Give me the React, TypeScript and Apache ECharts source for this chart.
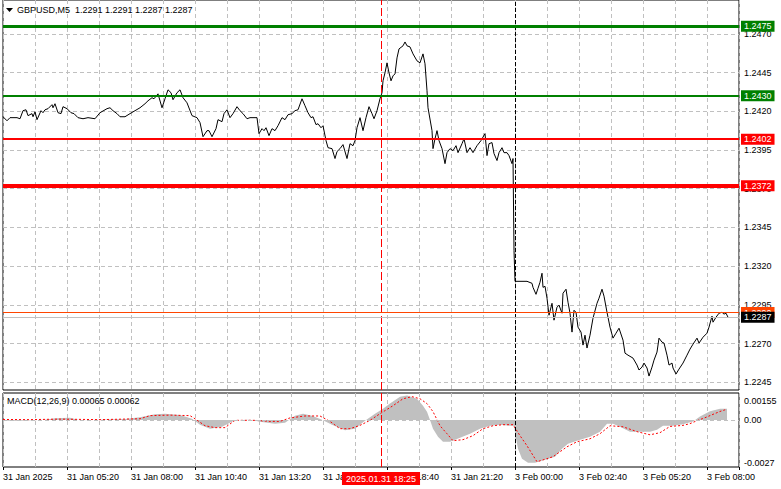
import React, { useEffect, useRef } from "react";
import * as echarts from "echarts";

// ---- data (bar index = 5-minute bars from the left edge) ----
const titleText = "GBPUSD,M5  1.2291 1.2291 1.2287 1.2287";
const macdTitle = "MACD(12,26,9) 0.00065 0.00062";

const timeLabels = [
  "31 Jan 2025", "31 Jan 05:20", "31 Jan 08:00", "31 Jan 10:40", "31 Jan 13:20", "31 Jan 16:00",
  "31 Jan 18:40", "31 Jan 21:20", "3 Feb 00:00", "3 Feb 02:40", "3 Feb 05:20", "3 Feb 08:00",
];

const priceTicks = [1.2245, 1.227, 1.2295, 1.232, 1.2345, 1.237, 1.2395, 1.242, 1.2445, 1.247];
const greenLevels = [1.2475, 1.243];
const redLevels = [1.2402, 1.2372];
const priceLevel = 1.229;
const bidPrice = 1.2287;

const macdTicks = [0.00155, 0, -0.0027];
const macdTickLabels = ["0.00155", "0.00", "-0.0027"];

const markerBar = 189;
const markerLabel = "2025.01.31 18:25";
const separatorBar = 256;

const pricePoints = [
  [0,1.24165],[2,1.24139],[3.5,1.24159],[7,1.24159],[8.5,1.24152],[10,1.24204],[11.5,1.2421],[12.5,1.24172],[14.5,1.24185],[15,1.24165],
  [16,1.24197],[17,1.24146],[19,1.24204],[20,1.24191],[21,1.2421],[22.5,1.24217],[24.5,1.24243],[25,1.24223],[26,1.24249],[27.5,1.24191],
  [29,1.24185],[30,1.2423],[32,1.24217],[34,1.24191],[35.5,1.24185],[37.5,1.24159],[40,1.24152],[42.5,1.24159],[46,1.24152],[48.5,1.24191],
  [52,1.24217],[53.5,1.24223],[55,1.24204],[57,1.24185],[58.5,1.24165],[61,1.24165],[63.5,1.24185],[66,1.24204],[68.5,1.24223],[71,1.24249],
  [72.5,1.24268],[74.5,1.24288],[75.5,1.24281],[77.5,1.24313],[79.5,1.24223],[81,1.24281],[82.5,1.24339],[84,1.2432],[85,1.24275],[87,1.2432],
  [88.5,1.24339],[90,1.24288],[92,1.24255],[94.5,1.24172],[97,1.24159],[98.5,1.24127],[100,1.24036],[102,1.24075],[103,1.24075],[104.5,1.24036],
  [106.5,1.24088],[107.5,1.24146],[109.5,1.24133],[110.5,1.24185],[112,1.2421],[113.5,1.24159],[115,1.24185],[117,1.2423],[118.5,1.24204],[120,1.24185],
  [122,1.24152],[123.5,1.24159],[126,1.24159],[127,1.24159],[128,1.24056],[129.5,1.24088],[130.5,1.24075],[131.5,1.24094],[133,1.24043],[134.5,1.24088],
  [136,1.24075],[137.5,1.24107],[139.5,1.24159],[141,1.24146],[142.5,1.24178],[144.5,1.24185],[146,1.24204],[147.5,1.2421],[149.5,1.24281],[151,1.24236],
  [152.5,1.24191],[154,1.24159],[155,1.24165],[156.5,1.24114],[157.5,1.2412],[159,1.24094],[160,1.24107],[161.5,1.24011],[162.5,1.23965],[164.5,1.23959],
  [166,1.23895],[167,1.2394],[168.5,1.23959],[170,1.23985],[172,1.23895],[173.5,1.23991],[175,1.23978],[176,1.24011],[177,1.24094],[178.5,1.24159],
  [180,1.24075],[181.5,1.24159],[183,1.2423],[184.5,1.24185],[185.5,1.24152],[187,1.24204],[188.5,1.24281],[189.5,1.2432],[190,1.24397],[191,1.24449],
  [192,1.24513],[193,1.24449],[194,1.24397],[195,1.24429],[196,1.24442],[197,1.24545],[198,1.24603],[200,1.24623],[201,1.24648],[202,1.24623],
  [203.5,1.24616],[205,1.24571],[207,1.24526],[208.5,1.24513],[210,1.24571],[211,1.24507],[212,1.24333],[212.5,1.24223],[214.5,1.24075],[215,1.23959],
  [216,1.24023],[217,1.24075],[218,1.24011],[219.5,1.23959],[221,1.23862],[222,1.23933],[223.5,1.23959],[225,1.23946],[226.5,1.23978],[227.5,1.23933],
  [229.5,1.23991],[230.5,1.24023],[232,1.23933],[233.5,1.23965],[235,1.23933],[237,1.23978],[239,1.24011],[241,1.24056],[242,1.23914],[243,1.23991],
  [244.5,1.23998],[245.5,1.23927],[247,1.23882],[248,1.23933],[249.5,1.23965],[250.5,1.23933],[252,1.23933],[253,1.23914],[254.5,1.23862],[255,1.23895],
  [255.5,1.23302],[256,1.23102],[262,1.23102],[264.5,1.23089],[265,1.23063],[266.5,1.23018],[267.5,1.23057],[268.5,1.23096],[269.5,1.23154],[270,1.23063],
  [271,1.2307],[272,1.22993],[273,1.22883],[274.5,1.2296],[275.5,1.22851],[277,1.22935],[278,1.22948],[279.5,1.22896],[280,1.23025],[281.5,1.23051],
  [282.5,1.22967],[283.5,1.22896],[284.5,1.22774],[285.5,1.22915],[286.5,1.22902],[287.5,1.22806],[289,1.22774],[290,1.2269],[291,1.22754],[292,1.22671],
  [293.5,1.22754],[295,1.22864],[297,1.2296],[298,1.22993],[299.5,1.23051],[300.5,1.23006],[302,1.22902],[303.5,1.22806],[305,1.22735],[306.5,1.22767],
  [308,1.22799],[310,1.22722],[311,1.22638],[312.5,1.22625],[315,1.22606],[317,1.22561],[318,1.22529],[319.5,1.22548],[320.5,1.22574],[322,1.22542],
  [323,1.2249],[324.5,1.22548],[325.5,1.22593],[327,1.22645],[328,1.22735],[329.5,1.22709],[330.5,1.22703],[332,1.22625],[333,1.22561],[334.5,1.22574],
  [335,1.22542],[336.5,1.22503],[338,1.22535],[340,1.22574],[342,1.22625],[343.5,1.22664],[345,1.22696],[347,1.22735],[348,1.22703],[350,1.22741],
  [352,1.22767],[353,1.22806],[354.5,1.22877],[355,1.22838],[356.5,1.2287],[358,1.22896],[359.5,1.22902],[360.5,1.2289],[361.5,1.22896],[362.5,1.2287],
];

const macdMain = [
  [0,-0.00004],[8.5,-0.00004],[21,0.00002],[26,0.0001],[33.5,0.00013],[38.5,-0.00001],[48.5,0.00002],[61,0.00005],[68.5,0.00016],[76,0.00033],
  [81,0.00036],[88.5,0.00028],[94.5,0.00007],[98.5,-0.00027],[103.5,-0.0005],[109.5,-0.00039],[116,-0.00001],[123.5,0.00002],[128.5,-0.0001],[136,-0.00021],
  [141,-0.00016],[146,0.00025],[150,0.00036],[154.5,0.00025],[159.5,0.00002],[164.5,-0.00027],[171,-0.00059],[176,-0.0005],[181,-0.00004],[186,0.00036],
  [190,0.00065],[193.5,0.00094],[198.5,0.00134],[202,0.0014],[207,0.00122],[210,0.00082],[212,0.00048],[213.5,0],[215,-0.0005],[217.5,-0.00096],
  [220,-0.00125],[223.5,-0.00125],[228.5,-0.00102],[233.5,-0.00079],[238.5,-0.0005],[243.5,-0.00033],[248.5,-0.00027],[253.5,-0.00033],[255.5,-0.00033],[256.5,-0.00107],
  [257.5,-0.00165],[259.5,-0.00222],[262.5,-0.00245],[266,-0.00245],[271,-0.00228],[276,-0.00211],[279.5,-0.00165],[282.5,-0.00136],[287,-0.00119],[293.5,-0.00096],
  [298.5,-0.00067],[302,-0.00021],[305,-0.00021],[308.5,-0.00039],[313.5,-0.00067],[318.5,-0.00067],[323.5,-0.00067],[327,-0.00056],[330,-0.00033],[335,-0.00033],
  [340,-0.00024],[345,-0.00008],[348.5,0.0002],[353.5,0.0005],[358.5,0.00065],[362,0.00065],
];

const macdSignal = [
  [0,0.00003],[13.5,0.00002],[28.5,0.00005],[48.5,0.00002],[68.5,0.00007],[73.5,0.00025],[83.5,0.00028],[93.5,0.00025],[96,0.00007],[101,-0.00033],
  [106,-0.00044],[111,-0.00044],[116,-0.00002],[126,-0.00002],[133.5,-0.00008],[138.5,-0.00008],[143.5,0.00012],[151,0.00023],[158.5,0.00023],[163.5,-0.00008],
  [168.5,-0.0005],[173.5,-0.0005],[178.5,-0.00031],[183.5,-0.00002],[188.5,0.00036],[195,0.00082],[200,0.00122],[204.5,0.00134],[208.5,0.00122],[212,0.00094],
  [215,0.00048],[218.5,-0.00033],[222,-0.00079],[225,-0.00119],[230,-0.00113],[235,-0.0009],[240,-0.0005],[245,-0.00033],[250,-0.00027],[255,-0.00027],
  [258.5,-0.0009],[262,-0.00148],[267,-0.0024],[275,-0.00211],[282,-0.00154],[287,-0.00125],[293.5,-0.00108],[298.5,-0.00079],[303.5,-0.00033],[310,-0.00039],
  [317,-0.00067],[323.5,-0.00085],[328.5,-0.00073],[333.5,-0.00037],[340,-0.00031],[343.5,-0.00021],[347,-0.00004],[351,0.00013],[354.5,0.0003],[358.5,0.00049],
  [362,0.00062],
];

// ---- chart ----
const F = '"Liberation Sans", Arial, sans-serif';
const FS = 9;
const GRID_DASH = [4, 3];

function buildOption() {
  const xBase = {
    type: "value",
    min: 0,
    max: 368,
    interval: 16,
    axisLine: { show: false },
    axisTick: { show: false },
    axisLabel: { show: false },
    splitLine: { show: true, lineStyle: { color: "#C0C0C0", type: GRID_DASH, width: 1 } },
  };

  const levelLabel = (bg: string) => ({
    show: true,
    position: "end",
    distance: 2,
    formatter: "{b}",
    color: "#fff",
    backgroundColor: bg,
    padding: [1, 3, 1, 3],
    fontSize: FS,
    fontFamily: F,
  });

  const redDash = { color: "#FF0000", type: [8, 3], width: 1 };
  const sepDash = { color: "#000", type: [4, 2], width: 1 };

  return {
    animation: false,
    backgroundColor: "#fff",
    textStyle: { fontFamily: F },
    title: [
      { text: titleText, left: 17, top: 5, padding: 0, textStyle: { fontSize: FS, fontWeight: "normal", color: "#000", fontFamily: F } },
      { text: macdTitle, left: 7, top: 396, padding: 0, textStyle: { fontSize: FS, fontWeight: "normal", color: "#000", fontFamily: F } },
    ],
    graphic: [
      { type: "polygon", shape: { points: [[6, 8], [13, 8], [9.5, 12]] }, style: { fill: "#000" } },
    ],
    grid: [
      { left: 3, top: -1, width: 736, height: 391, show: true, borderColor: "#000", borderWidth: 1, backgroundColor: "transparent" },
      { left: 3, top: 393, width: 736, height: 74, show: true, borderColor: "#000", borderWidth: 1, backgroundColor: "transparent" },
    ],
    xAxis: [
      { ...xBase, gridIndex: 0 },
      { ...xBase, gridIndex: 1 },
      {
        type: "value",
        gridIndex: 1,
        min: 0,
        max: 368,
        interval: 32,
        position: "bottom",
        axisLine: { show: false },
        axisTick: { show: true, length: 3, lineStyle: { color: "#000" } },
        splitLine: { show: false },
        axisLabel: {
          show: true,
          align: "left",
          margin: 5,
          color: "#000",
          fontSize: FS,
          fontFamily: F,
          formatter: (v: number) => {
            const i = Math.round(v / 32);
            return Math.abs(v - i * 32) < 1e-6 && timeLabels[i] ? timeLabels[i] : "";
          },
        },
      },
    ],
    yAxis: [
      { type: "value", gridIndex: 0, min: 1.224, max: 1.24919, show: false },
      { type: "value", gridIndex: 1, min: -0.0027, max: 0.00155, show: false },
    ],
    series: [
      // price grid lines + axis labels
      {
        type: "line",
        xAxisIndex: 0,
        yAxisIndex: 0,
        data: [],
        silent: true,
        markLine: {
          z: 1,
          silent: true,
          precision: 6,
          symbol: ["none", "none"],
          lineStyle: { color: "#C0C0C0", type: GRID_DASH, width: 1 },
          label: { show: true, position: "end", distance: 5, formatter: "{b}", color: "#000", fontSize: FS, fontFamily: F },
          data: priceTicks.map((v) => ({ yAxis: v, name: v.toFixed(4) })),
        },
      },
      // price line + level lines
      {
        type: "line",
        xAxisIndex: 0,
        yAxisIndex: 0,
        data: pricePoints,
        showSymbol: false,
        silent: true,
        lineStyle: { color: "#000", width: 1 },
        markLine: {
          z: 5,
          silent: true,
          precision: 6,
          symbol: ["none", "none"],
          data: [
            { xAxis: markerBar, lineStyle: redDash, label: { show: false } },
            { xAxis: separatorBar, lineStyle: sepDash, label: { show: false } },
            { yAxis: greenLevels[0], name: greenLevels[0].toFixed(4), lineStyle: { color: "#008000", width: 3, type: "solid" }, label: levelLabel("#008000") },
            { yAxis: greenLevels[1], name: greenLevels[1].toFixed(4), lineStyle: { color: "#008000", width: 2, type: "solid" }, label: levelLabel("#008000") },
            { yAxis: redLevels[0], name: redLevels[0].toFixed(4), lineStyle: { color: "#FF0000", width: 2, type: "solid" }, label: levelLabel("#FF0000") },
            { yAxis: redLevels[1], name: redLevels[1].toFixed(4), lineStyle: { color: "#FF0000", width: 4, type: "solid" }, label: levelLabel("#FF0000") },
            { yAxis: priceLevel, name: priceLevel.toFixed(4), lineStyle: { color: "#FF4500", width: 1, type: "solid" }, label: levelLabel("#FF4500") },
            { yAxis: bidPrice, name: bidPrice.toFixed(4), lineStyle: { color: "#C0C0C0", width: 1, type: "solid" }, label: levelLabel("#000000") },
          ],
        },
      },
      // MACD histogram
      {
        type: "line",
        xAxisIndex: 1,
        yAxisIndex: 1,
        data: macdMain,
        showSymbol: false,
        silent: true,
        lineStyle: { width: 0, color: "#C0C0C0" },
        areaStyle: { color: "#C0C0C0", opacity: 1, origin: "auto" },
        z: 2,
      },
      // MACD signal + panel lines/labels
      {
        type: "line",
        xAxisIndex: 1,
        yAxisIndex: 1,
        data: macdSignal,
        showSymbol: false,
        silent: true,
        z: 3,
        lineStyle: { color: "#FF0000", width: 1, type: [2, 2] },
        markLine: {
          z: 5,
          silent: true,
          precision: 6,
          symbol: ["none", "none"],
          data: [
            {
              yAxis: macdTicks[0], name: macdTickLabels[0],
              lineStyle: { color: "transparent", width: 0 },
              label: { show: true, position: "end", distance: 5, formatter: "{b}", color: "#000", fontSize: FS, fontFamily: F, verticalAlign: "top", padding: [3, 0, 0, 0] },
            },
            {
              yAxis: macdTicks[1], name: macdTickLabels[1],
              lineStyle: { color: "#C0C0C0", width: 1, type: GRID_DASH },
              label: { show: true, position: "end", distance: 5, formatter: "{b}", color: "#000", fontSize: FS, fontFamily: F },
            },
            {
              yAxis: macdTicks[2], name: macdTickLabels[2],
              lineStyle: { color: "transparent", width: 0 },
              label: { show: true, position: "end", distance: 5, formatter: "{b}", color: "#000", fontSize: FS, fontFamily: F, verticalAlign: "bottom" },
            },
            { xAxis: separatorBar, lineStyle: sepDash, label: { show: false } },
            {
              xAxis: markerBar, name: markerLabel, lineStyle: redDash,
              label: { show: true, position: "start", distance: 5, formatter: "{b}", color: "#fff", backgroundColor: "#FF0000", padding: [2, 4, 2, 4], fontSize: FS, fontFamily: F },
            },
          ],
        },
      },
    ],
  };
}

export default function App() {
  const ref = useRef<HTMLDivElement>(null);
  useEffect(() => {
    if (!ref.current) return;
    const chart = echarts.init(ref.current, null, { renderer: "svg" });
    chart.setOption(buildOption() as any);
    return () => chart.dispose();
  }, []);
  return (
    <div
      ref={ref}
      style={{ position: "fixed", left: 0, top: 0, width: 781, height: 489, background: "#fff" }}
    />
  );
}
